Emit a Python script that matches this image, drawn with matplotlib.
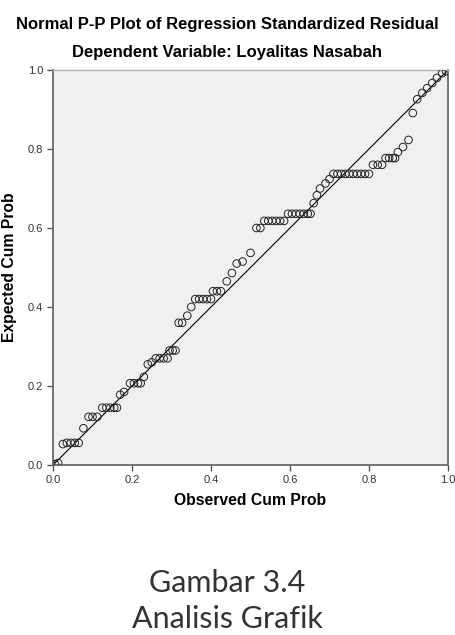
import matplotlib.pyplot as plt

# observed vs expected cumulative probabilities
observed = [0.005, 0.013,
            0.025, 0.035, 0.045, 0.055, 0.065,
            0.077,
            0.09, 0.10, 0.112,
            0.125, 0.135, 0.145, 0.155, 0.162,
            0.17, 0.18,
            0.195, 0.205, 0.215, 0.222,
            0.23, 0.24, 0.25,
            0.26, 0.27, 0.28, 0.29,
            0.295, 0.303, 0.31,
            0.318, 0.327,
            0.34, 0.35,
            0.36, 0.37, 0.38, 0.39, 0.40,
            0.405, 0.415, 0.425,
            0.44, 0.453, 0.465, 0.48, 0.50,
            0.515, 0.525,
            0.535, 0.545, 0.555, 0.565, 0.575, 0.585,
            0.595, 0.605, 0.615, 0.625, 0.635, 0.645, 0.652,
            0.66, 0.668, 0.676, 0.69, 0.70,
            0.71, 0.72, 0.73, 0.74, 0.75, 0.76, 0.77, 0.78, 0.79, 0.80,
            0.81, 0.822, 0.833,
            0.842, 0.851, 0.86, 0.866,
            0.873, 0.886, 0.90,
            0.911,
            0.922, 0.935, 0.947, 0.96, 0.972, 0.985, 0.995]
expected = [0.002, 0.005,
            0.053, 0.056, 0.056, 0.056, 0.056,
            0.093,
            0.122, 0.122, 0.122,
            0.145, 0.145, 0.145, 0.145, 0.145,
            0.178, 0.185,
            0.207, 0.207, 0.207, 0.207,
            0.223, 0.255, 0.26,
            0.27, 0.27, 0.27, 0.27,
            0.29, 0.29, 0.29,
            0.36, 0.36,
            0.378, 0.40,
            0.42, 0.42, 0.42, 0.42, 0.42,
            0.44, 0.44, 0.44,
            0.465, 0.486, 0.51, 0.515, 0.537,
            0.60, 0.60,
            0.618, 0.618, 0.618, 0.618, 0.618, 0.618,
            0.636, 0.636, 0.636, 0.636, 0.636, 0.636, 0.636,
            0.663, 0.683, 0.70, 0.713, 0.724,
            0.737, 0.737, 0.737, 0.737, 0.737, 0.737, 0.737, 0.737, 0.737, 0.737,
            0.76, 0.76, 0.76,
            0.777, 0.777, 0.777, 0.777,
            0.792, 0.805, 0.823,
            0.891,
            0.926, 0.942, 0.954, 0.967, 0.98, 0.992, 0.997]

ticks = [0.0, 0.2, 0.4, 0.6, 0.8, 1.0]

plt.rcParams['font.family'] = ['Liberation Sans', 'DejaVu Sans']

fig = plt.figure(figsize=(4.55, 6.35), dpi=100)
ax = fig.add_axes([53 / 455, 170 / 635, 395 / 455, 395 / 635])
ax.set_facecolor('#f0f0f0')

ax.plot([0, 1], [0, 1], color='black', lw=0.8, zorder=2)
ax.scatter(observed, expected, s=30, facecolors='none', edgecolors='#222222',
           linewidths=0.7, zorder=3)

ax.set_xlim(0, 1)
ax.set_ylim(0, 1)
ax.set_xticks(ticks)
ax.set_yticks(ticks)
ax.set_xticklabels([f'{t:.1f}' for t in ticks])
ax.set_yticklabels([f'{t:.1f}' for t in ticks])
ax.tick_params(direction='out', length=4, width=1, colors='#555555',
               labelsize=8, labelcolor='#333333', pad=3)

for side in ['left', 'bottom', 'right']:
    ax.spines[side].set_color('#6a6a6a')
    ax.spines[side].set_linewidth(1.3)
ax.spines['top'].set_color('#b0b0b0')
ax.spines['top'].set_linewidth(1.0)

ax.set_xlabel('Observed Cum Prob', fontsize=11.3, fontweight='bold', labelpad=6)
ax.set_ylabel('Expected Cum Prob', fontsize=11.3, fontweight='bold', labelpad=8)

fig.text(0.5, 1 - 25 / 635, 'Normal P-P Plot of Regression Standardized Residual',
         ha='center', va='center', fontsize=12, fontweight='bold')
fig.text(0.5, 1 - 53 / 635, 'Dependent Variable: Loyalitas Nasabah',
         ha='center', va='center', fontsize=12, fontweight='bold')

fig.text(0.5, 1 - 583 / 635, 'Gambar 3.4', ha='center', va='center',
         fontsize=22, family='Lato', color='#333333')
fig.text(0.5, 1 - 619 / 635, 'Analisis Grafik', ha='center', va='center',
         fontsize=22, family='Lato', color='#333333')

fig.savefig('out.png', dpi=100)
